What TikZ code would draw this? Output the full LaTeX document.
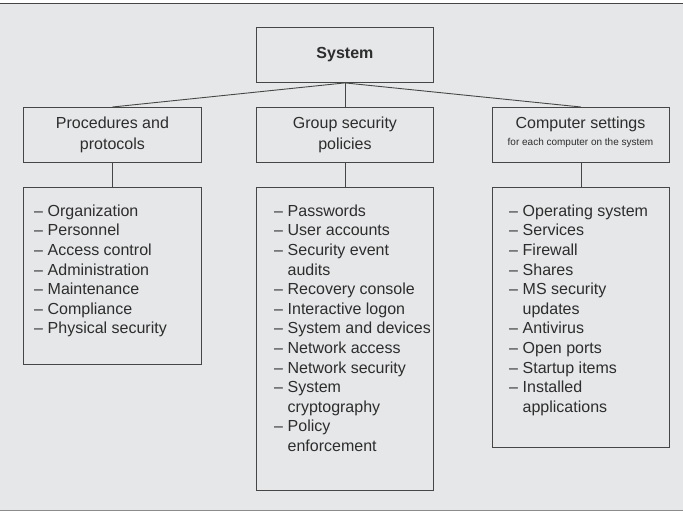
\documentclass[tikz,border=0pt]{standalone}
\usepackage{fontspec}
\setmainfont{Liberation Sans}
\definecolor{bg}{RGB}{230,231,232}
\definecolor{ln}{RGB}{70,70,70}
\definecolor{tx}{RGB}{45,45,45}
\tikzset{
  box/.style={draw=ln, line width=0.9pt, inner sep=0pt, anchor=north west, text=tx,
    font=\fontsize{16}{21}\selectfont, align=center},
  conn/.style={draw=ln, line width=0.9pt},
  lst/.style={text=tx, font=\fontsize{16}{19.6}\selectfont, anchor=north west, inner sep=0pt},
}
\begin{document}
\begin{tikzpicture}[x=1pt,y=-1pt]
\useasboundingbox (0,0) rectangle (683,512);
\fill[white] (0,0) rectangle (683,512);
\fill[bg] (0,4) rectangle (683,510);
\draw[ln, line width=1.4pt] (0,3.3) -- (683,3.3);
\draw[black!45, line width=0.8pt] (0,510.5) -- (683,510.5);

% top
\node[box, minimum width=177pt, minimum height=55pt, font=\fontsize{16}{21}\selectfont\bfseries] (sys) at (256,27) {System};

% second level
\node[box, minimum width=178pt, minimum height=55pt] (p) at (23,107) {Procedures and\\protocols};
\node[box, minimum width=177pt, minimum height=55pt] (g) at (256,107) {Group security\\policies};
\node[box, minimum width=177pt, minimum height=55pt] (c) at (492,107) {};
\node[text=tx, anchor=base, inner sep=0pt, font=\fontsize{16}{21}\selectfont] (ct) at (580.5,128) {Computer settings};
\node[text=tx, anchor=base, inner sep=0pt, font=\fontsize{10}{12}\selectfont] (cs) at (580.5,145) {for each computer on the system};

% list boxes
\node[box, minimum width=178pt, minimum height=177pt] (pl) at (23,187) {};
\node[box, minimum width=177pt, minimum height=303pt] (gl) at (256,187) {};
\node[box, minimum width=177pt, minimum height=260pt] (cl) at (492,187) {};

% connectors
\draw[conn] (sys.south) -- (p.north);
\draw[conn] (sys.south) -- (g.north);
\draw[conn] (sys.south) -- (c.north);
\draw[conn] (p.south) -- (pl.north);
\draw[conn] (g.south) -- (gl.north);
\draw[conn] (c.south) -- (cl.north);

% list texts
\node[lst] (plt) at (34,202.3) {\begin{tabular}{@{}l@{\hspace{4.6pt}}l@{}}
–&Organization\\
–&Personnel\\
–&Access control\\
–&Administration\\
–&Maintenance\\
–&Compliance\\
–&Physical security
\end{tabular}};
\node[lst] (glt) at (274,202.3) {\begin{tabular}{@{}l@{\hspace{4.6pt}}l@{}}
–&Passwords\\
–&User accounts\\
–&Security event\\
&audits\\
–&Recovery console\\
–&Interactive logon\\
–&System and devices\\
–&Network access\\
–&Network security\\
–&System\\
&cryptography\\
–&Policy\\
&enforcement
\end{tabular}};
\node[lst] (clt) at (509,202.3) {\begin{tabular}{@{}l@{\hspace{4.6pt}}l@{}}
–&Operating system\\
–&Services\\
–&Firewall\\
–&Shares\\
–&MS security\\
&updates\\
–&Antivirus\\
–&Open ports\\
–&Startup items\\
–&Installed\\
&applications
\end{tabular}};
\end{tikzpicture}
\end{document}
